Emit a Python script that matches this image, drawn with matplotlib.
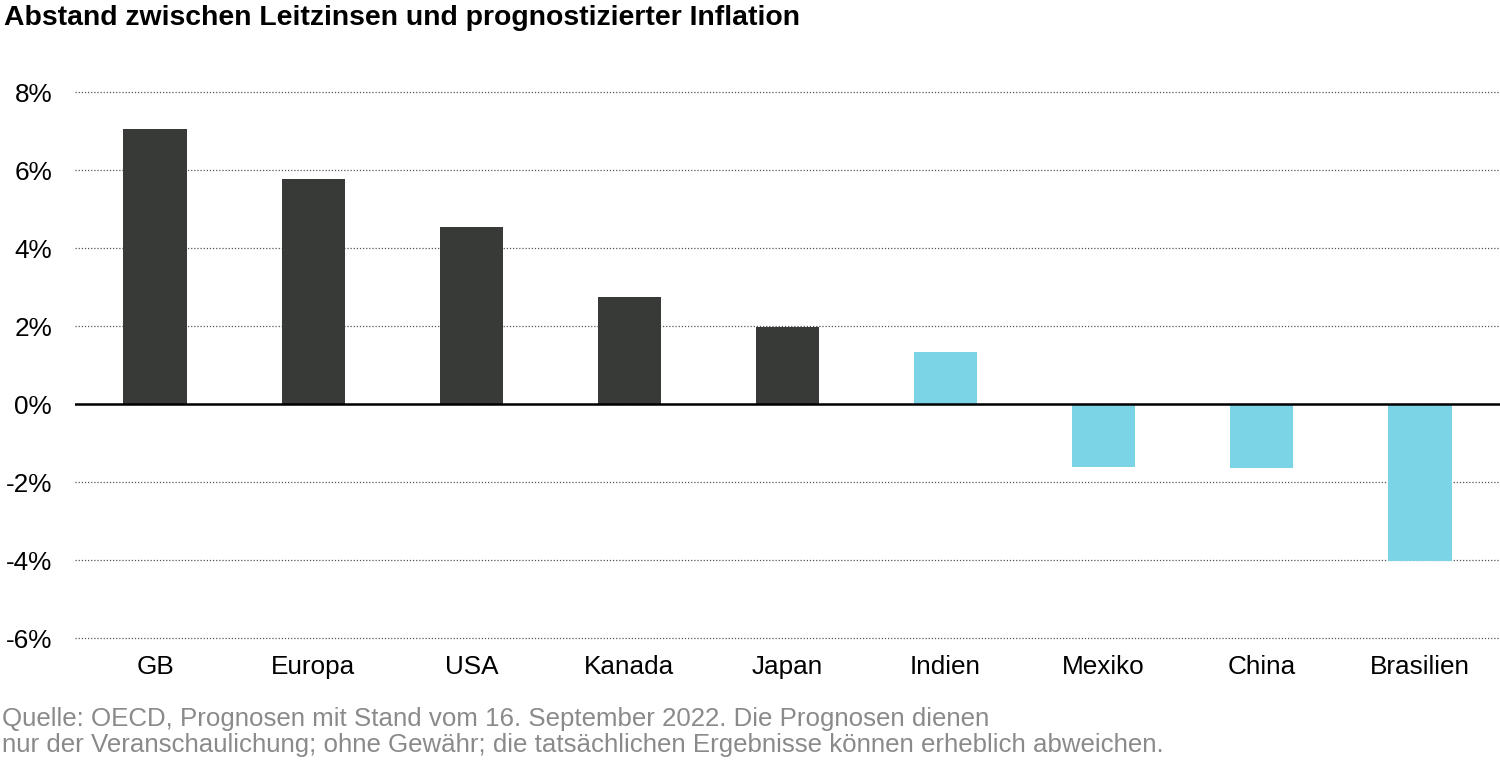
import matplotlib.pyplot as plt

plt.rcParams['font.family'] = ['Liberation Sans', 'DejaVu Sans']

countries = ['GB', 'Europa', 'USA', 'Kanada', 'Japan', 'Indien', 'Mexiko', 'China', 'Brasilien']
gap = [7.05, 5.77, 4.54, 2.74, 1.97, 1.33, -1.62, -1.64, -4.03]
emerging = [False, False, False, False, False, True, True, True, True]

dark = '#383a37'
light = '#7bd3e6'
colors = [light if e else dark for e in emerging]

fig = plt.figure(figsize=(15, 7.61), dpi=100)
ax = fig.add_axes([0.05, 0.1616, 0.95, 0.7174])

ax.bar(range(len(countries)), gap, width=0.4, color=colors, zorder=3)
ax.axhline(0, color='black', lw=1.8, zorder=4)

yticks = [-6, -4, -2, 0, 2, 4, 6, 8]
ax.set_yticks(yticks)
ax.set_yticklabels([f'{t}%' for t in yticks])
ax.set_ylim(-6, 8)
ax.set_xlim(-0.506, len(countries) - 1 + 0.506)
ax.set_xticks(range(len(countries)))
ax.set_xticklabels(countries)

ax.grid(axis='y', color='#555555', linestyle=(0, (1, 1.5)), lw=0.9, clip_on=False)
for s in ax.spines.values():
    s.set_visible(False)
ax.tick_params(axis='both', length=0, labelsize=18.8, colors='black')
ax.tick_params(axis='y', pad=16.5)
ax.tick_params(axis='x', pad=12)

fig.text(0.003, 0.976, 'Abstand zwischen Leitzinsen und prognostizierter Inflation',
         fontsize=20.4, fontweight='bold', va='center', ha='left')
fig.text(0.001, 0.038,
         'Quelle: OECD, Prognosen mit Stand vom 16. September 2022. Die Prognosen dienen\n'
         'nur der Veranschaulichung; ohne Gewähr; die tatsächlichen Ergebnisse können erheblich abweichen.',
         fontsize=18.6, color='#8a8a8a', va='center', ha='left', linespacing=1.13)

fig.savefig('out.png', dpi=100)
